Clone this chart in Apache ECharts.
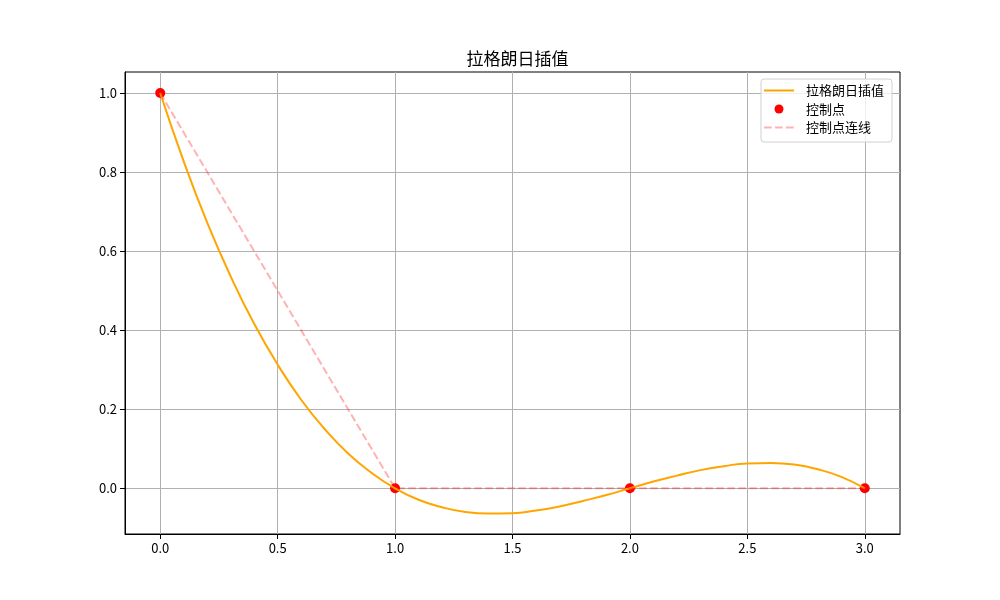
<!DOCTYPE html>
<html>
<head>
<meta charset="utf-8">
<script src="https://cdn.jsdelivr.net/npm/echarts@6/dist/echarts.min.js"></script>
<style>html,body{margin:0;padding:0;background:#fff}#c{width:1000px;height:600px}</style>
</head>
<body>
<div id="c"></div>
<script>
// Curve samples
const curveX = [0,0.1,0.2,0.3,0.4,0.5,0.6,0.7,0.8,0.9,1.0,1.1,1.2,1.3,1.4,1.5,1.6,1.7,1.8,1.9,2.0,2.1,2.2,2.3,2.4,2.5,2.6,2.7,2.8,2.9,3.0];
const curveY = [1.0,0.827,0.672,0.536,0.416,0.313,0.224,0.150,0.088,0.039,0.0,-0.029,-0.048,-0.060,-0.064,-0.063,-0.056,-0.046,-0.032,-0.017,0.0,0.017,0.032,0.046,0.056,0.063,0.064,0.060,0.048,0.029,0.0];
const pointX = [0,1,2,3];
const pointY = [1,0,0,0];
const xTicks = [0,0.5,1.0,1.5,2.0,2.5,3.0];
const yTicks = [0,0.2,0.4,0.6,0.8,1.0];
const seriesNames = ['拉格朗日插值','控制点','控制点连线'];
const titleText = '拉格朗日插值';

const font = '"Noto Sans CJK SC", "DejaVu Sans", sans-serif';
const chart = echarts.init(document.getElementById('c'), null, {renderer:'canvas'});
const zip = (a,b) => a.map((v,i)=>[v,b[i]]);
const hiddenSymbol = {color:'rgba(0,0,0,0)',borderWidth:0,opacity:0};
chart.setOption({
  animation:false,
  backgroundColor:'#fff',
  textStyle:{fontFamily:font},
  title:{text:titleText,left:512.5,textAlign:'center',top:45,
    textStyle:{fontFamily:font,fontSize:17,fontWeight:'normal',color:'#000'}},
  legend:{orient:'vertical',right:108,top:79,padding:[5,8,8,2],itemGap:5.5,itemWidth:30,itemHeight:9,
    borderColor:'#d0d0d0',borderWidth:1,borderRadius:3,backgroundColor:'rgba(255,255,255,0.8)',
    textStyle:{fontFamily:font,fontSize:13,color:'#000',padding:[0,0,0,7]},
    data:[{name:seriesNames[0],itemStyle:hiddenSymbol},{name:seriesNames[1],icon:'circle',itemStyle:{opacity:1}},{name:seriesNames[2],itemStyle:hiddenSymbol}]},
  grid:{left:125,right:100,top:72,bottom:66,show:true,borderColor:'#000',borderWidth:1,backgroundColor:'transparent'},
  xAxis:{type:'value',min:-0.15,max:3.15,
    axisLine:{show:true,onZero:false,lineStyle:{color:'#000',width:1}},
    axisTick:{show:true,customValues:xTicks,length:5,lineStyle:{color:'#000'}},
    axisLabel:{customValues:xTicks,color:'#000',fontSize:13,margin:8,formatter:v=>v.toFixed(1)},
    splitLine:{show:true,lineStyle:{color:'#b0b0b0',width:1}}},
  yAxis:{type:'value',min:-0.1156,max:1.053,
    axisLine:{show:true,onZero:false,lineStyle:{color:'#000',width:1}},
    axisTick:{show:true,customValues:yTicks,length:5,lineStyle:{color:'#000'}},
    axisLabel:{customValues:yTicks,color:'#000',fontSize:13,margin:8,formatter:v=>v.toFixed(1)},
    splitLine:{show:true,lineStyle:{color:'#b0b0b0',width:1}}},
  series:[
    {name:seriesNames[0],type:'line',data:zip(curveX,curveY),smooth:true,symbol:'none',
      lineStyle:{color:'#FFA500',width:2},itemStyle:{color:'#FFA500'}},
    {name:seriesNames[1],type:'scatter',data:zip(pointX,pointY),symbol:'circle',symbolSize:10,
      itemStyle:{color:'#ff0000',opacity:1}},
    {name:seriesNames[2],type:'line',data:zip(pointX,pointY),symbol:'none',
      lineStyle:{color:'rgba(255,0,0,0.3)',width:2,type:[7.7,3.3]},itemStyle:{color:'rgba(255,0,0,0.3)'}}
  ]
});
</script>
</body>
</html>
